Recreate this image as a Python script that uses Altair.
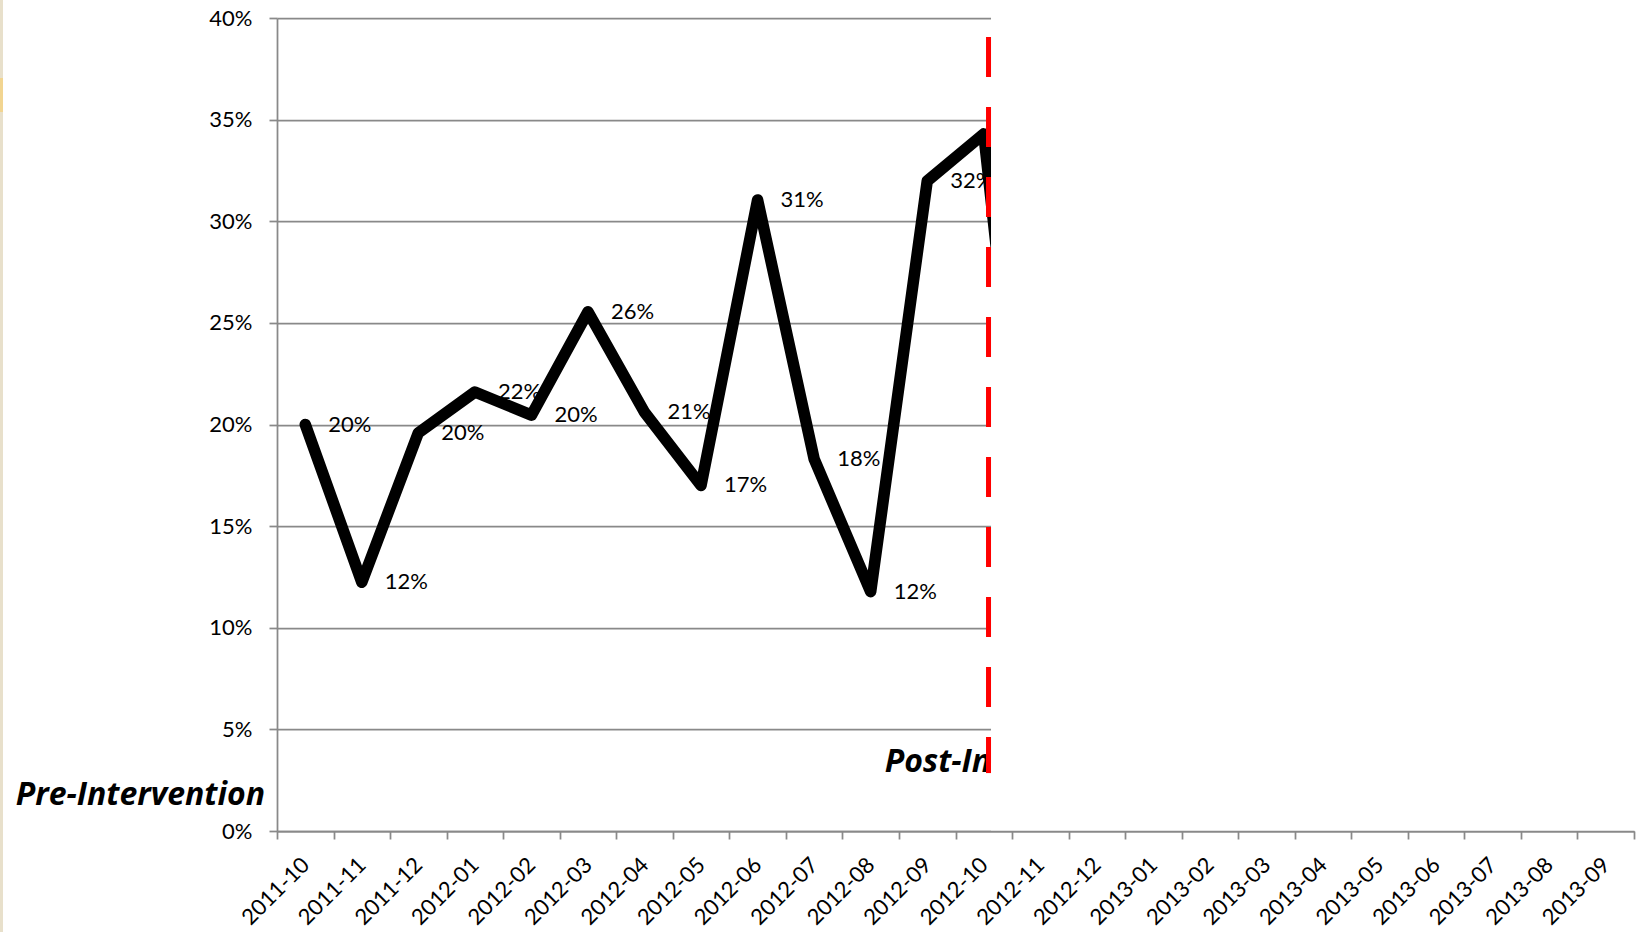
import json

import altair as alt
import pandas as pd

# Monthly categories on the horizontal axis
months = [
    "2011-10", "2011-11", "2011-12", "2012-01", "2012-02", "2012-03",
    "2012-04", "2012-05", "2012-06", "2012-07", "2012-08", "2012-09",
    "2012-10", "2012-11", "2012-12", "2013-01", "2013-02", "2013-03",
    "2013-04", "2013-05", "2013-06", "2013-07", "2013-08", "2013-09",
]

# Observed monthly rate (share), 2011-10 through 2012-11
rate = [
    0.200, 0.1224, 0.1959, 0.216, 0.2046, 0.2555,
    0.206, 0.170, 0.3105, 0.183, 0.1177, 0.3198,
    0.343, 0.090,
]

y_ticks = [0, 0.05, 0.10, 0.15, 0.20, 0.25, 0.30, 0.35, 0.40]

# Intervention boundary (in month-slot units) and phase captions
boundary = 12.584
phase_text = ["Pre-Intervention", "Post-Intervention"]

GREY = "#898989"
FONT = "Lato"
W, H = 1357, 813
BAND = W / len(months)

series = pd.DataFrame({
    "month": months[: len(rate)],
    "pos": [i + 0.5 for i in range(len(rate))],
    "rate": rate,
})

x_scale = alt.Scale(domain=[0, len(months)], nice=False, zero=False)
y_scale = alt.Scale(domain=[0, 0.4], nice=False, zero=True)

label_expr = (
    "datum.value < " + str(len(months)) + " ? "
    + json.dumps(months) + "[datum.value] : ''"
)

x_axis = alt.Axis(
    values=list(range(len(months) + 1)),
    labelExpr=label_expr,
    labelAngle=315,
    labelAlign="right",
    labelBaseline="middle",
    labelOffset=BAND / 2,
    labelPadding=22,
    labelFont=FONT,
    labelFontSize=22,
    labelColor="black",
    labelOverlap=False,
    labelFlush=False,
    labelBound=False,
    tickSize=8,
    tickColor=GREY,
    tickWidth=1.75,
    domainColor=GREY,
    domainWidth=1.75,
    grid=False,
    title=None,
    zindex=1,
)

y_axis = alt.Axis(
    values=y_ticks,
    format=".0%",
    labelFont=FONT,
    labelFontSize=22,
    labelColor="black",
    labelPadding=17,
    tickSize=8,
    tickColor=GREY,
    tickWidth=1.75,
    domainColor=GREY,
    domainWidth=1.75,
    grid=True,
    gridColor=GREY,
    gridWidth=1.75,
    title=None,
)

# Every layer shares the same positional encodings
X = alt.X("pos:Q", scale=x_scale, axis=x_axis)
Y = alt.Y("rate:Q", scale=y_scale, axis=y_axis)

line = alt.Chart(series).mark_line(
    color="black", strokeWidth=11.5, strokeCap="round", strokeJoin="round"
).encode(x=X, y=Y)

values = alt.Chart(series).mark_text(
    align="left", baseline="middle", dx=23, font=FONT, fontSize=22, color="black"
).encode(x=X, y=Y, text=alt.Text("rate:Q", format=".0%"))

pre = alt.Chart(pd.DataFrame({
    "t": [phase_text[0]], "pos": [-0.212], "rate": [0.0128],
})).mark_text(
    align="right", baseline="alphabetic", font="Open Sans", fontSize=32,
    fontWeight="bold", fontStyle="italic", color="black",
).encode(x=X, y=Y, text="t:N")

post = alt.Chart(pd.DataFrame({
    "t": [phase_text[1]], "pos": [10.75], "rate": [0.0292],
})).mark_text(
    align="left", baseline="alphabetic", font="Open Sans", fontSize=32,
    fontWeight="bold", fontStyle="italic", color="black",
).encode(x=X, y=Y, text="t:N")

# White panel hiding the post-intervention period
cover = alt.Chart(pd.DataFrame({
    "pos": [boundary + 0.044], "pos2": [len(months) + 0.2], "rate": [0.0], "rate2": [0.41],
})).mark_rect(color="white").encode(x=X, x2="pos2:Q", y=Y, y2="rate2:Q")

divider = alt.Chart(pd.DataFrame({
    "pos": [boundary], "rate": [0.3906], "rate2": [0.0285],
})).mark_rule(color="#FF0000", strokeWidth=5, strokeDash=[40, 30]).encode(
    x=X, y=Y, y2="rate2:Q"
)

# Slide edge along the left side, with a small highlighted tab
edge = alt.Chart(pd.DataFrame({"k": [0]})).mark_rect(color="#E8E0CB").encode(
    x=alt.value(-277), x2=alt.value(-274), y=alt.value(-18), y2=alt.value(H + 101),
)
tab = alt.Chart(pd.DataFrame({"k": [0]})).mark_rect(color="#F2D591").encode(
    x=alt.value(-277), x2=alt.value(-274), y=alt.value(60), y2=alt.value(94),
)

chart = alt.layer(
    line, values, pre, post, cover, divider, edge, tab
).properties(
    width=W,
    height=H,
    padding={"left": 277, "top": 18, "right": 5, "bottom": 101},
    autosize=alt.AutoSizeParams(type="none"),
    background="white",
).configure_view(stroke=None)

chart.save("out.html", embed_options={"renderer": "svg", "actions": False})
